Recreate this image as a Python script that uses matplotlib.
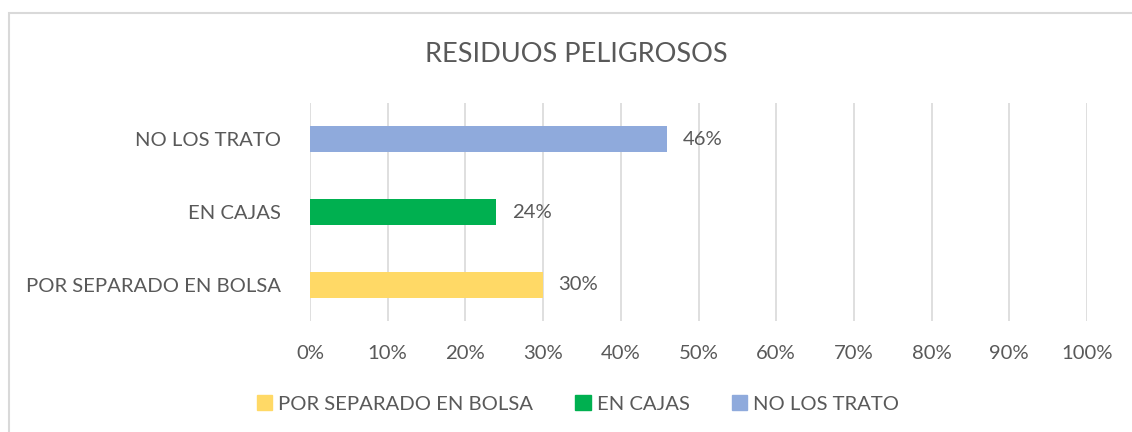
import matplotlib.pyplot as plt
import matplotlib.patches as mpatches
from matplotlib.ticker import PercentFormatter

plt.rcParams['font.family'] = ['Lato', 'DejaVu Sans']

categories = ["POR SEPARADO EN BOLSA", "EN CAJAS", "NO LOS TRATO"]
values = [30, 24, 46]
colors = ["#FFD966", "#00B050", "#8FAADC"]
xticks = [0, 10, 20, 30, 40, 50, 60, 70, 80, 90, 100]

text_color = "#595959"
grid_color = "#D9D9D9"
fs = 14.6

fig = plt.figure(figsize=(11.32, 4.32), dpi=100)
W, H = 1132, 432

# outer chart border (light gray)
fig.patches.append(mpatches.Rectangle((9 / W, -0.1), 1.2, 1 - 13 / H + 0.1,
                                      transform=fig.transFigure, fill=False,
                                      edgecolor=grid_color, linewidth=1.5))

ax = fig.add_axes([310 / W, 1 - 321 / H, (1087 - 310) / W, 218 / H])
y = range(len(categories))
bars = ax.barh(y, values, height=0.36, color=colors, zorder=3)
ax.set_yticks(list(y))
ax.set_yticklabels(categories)
ax.set_ylim(-0.5, len(categories) - 0.5)
ax.set_xlim(0, 100)
ax.set_xticks(xticks)
ax.xaxis.set_major_formatter(PercentFormatter(decimals=0))
ax.tick_params(axis="both", length=0, labelsize=fs, colors=text_color)
ax.tick_params(axis="x", pad=17)
ax.tick_params(axis="y", pad=21)
ax.grid(axis="x", color=grid_color, linewidth=1.2, zorder=0)
for s in ax.spines.values():
    s.set_visible(False)

ax.bar_label(bars, labels=[f"{v}%" for v in values], padding=11,
             fontsize=fs, color=text_color)

fig.text(576 / W, 1 - 54 / H, "RESIDUOS PELIGROSOS", ha="center", va="center",
         fontsize=19.5, color=text_color)

handles = [mpatches.Patch(color=c, label=l) for c, l in zip(colors, categories)]
fig.legend(handles=handles, loc="center", bbox_to_anchor=(578 / W, 1 - 404 / H),
           ncol=3, frameon=False, fontsize=fs, handlelength=0.75,
           handleheight=0.75, handletextpad=0.3, columnspacing=2.1,
           labelcolor=text_color)

fig.savefig("out.png", dpi=100)
